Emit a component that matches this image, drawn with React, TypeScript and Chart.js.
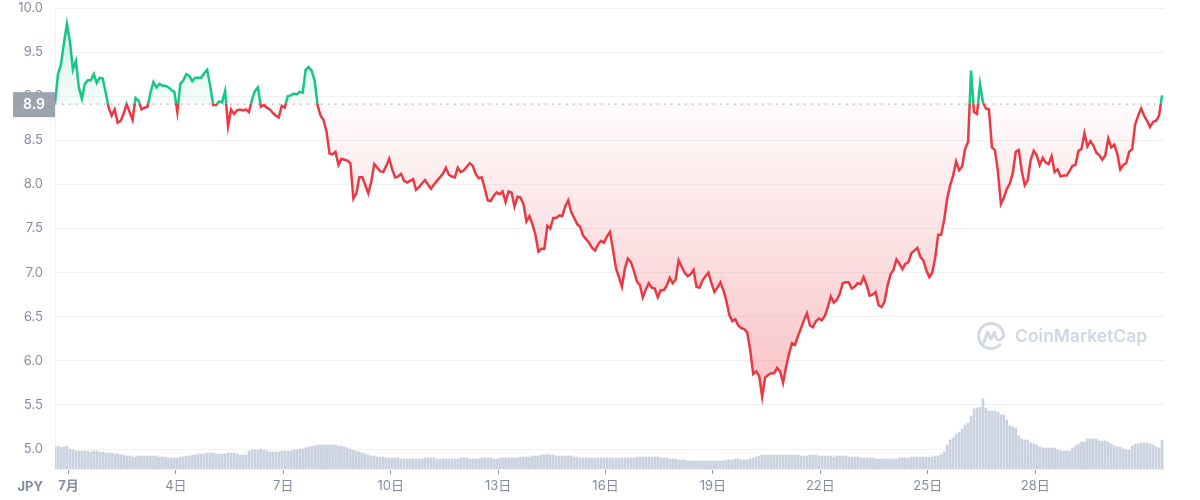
import { useEffect, useRef } from "react";
import { Chart, registerables } from "chart.js";

Chart.register(...registerables);

// Time axis: hours since 1 July 00:00, one sample every 2 hours
const START_HOUR = -9; // 30 June 15:00
const STEP_HOURS = 2;
const X_MIN_HOUR = -9;
const X_MAX_HOUR = 735;

const OPEN_PRICE = 8.91;
const OPEN_LABEL = "8.9";

const PRICE: number[] = [
  8.92, 9.25, 9.36, 9.6, 9.82, 9.62, 9.3, 9.4, 9.1, 8.97,
  9.14, 9.18, 9.18, 9.25, 9.15, 9.21, 9.2, 9.04, 8.87, 8.78,
  8.85, 8.7, 8.72, 8.8, 8.91, 8.82, 8.73, 8.98, 8.95, 8.85,
  8.87, 8.88, 9.04, 9.16, 9.1, 9.14, 9.12, 9.12, 9.1, 9.07,
  9.05, 8.82, 9.14, 9.18, 9.25, 9.23, 9.17, 9.21, 9.21, 9.21,
  9.26, 9.3, 9.12, 8.9, 8.9, 8.94, 8.93, 9.06, 8.66, 8.85,
  8.8, 8.84, 8.85, 8.84, 8.85, 8.82, 8.96, 9.06, 9.1, 8.88,
  8.9, 8.87, 8.85, 8.81, 8.78, 8.76, 8.89, 8.87, 9.0, 9.01,
  9.03, 9.02, 9.05, 9.04, 9.3, 9.33, 9.29, 9.18, 8.9, 8.78,
  8.73, 8.6, 8.35, 8.34, 8.37, 8.22, 8.29, 8.28, 8.27, 8.24,
  7.84, 7.9, 8.08, 8.08, 7.99, 7.9, 8.03, 8.23, 8.19, 8.15,
  8.14, 8.21, 8.29, 8.17, 8.08, 8.09, 8.12, 8.04, 8.02, 8.04,
  8.06, 7.94, 7.97, 8.01, 8.05, 8.0, 7.95, 8.0, 8.04, 8.08,
  8.12, 8.19, 8.11, 8.09, 8.08, 8.19, 8.14, 8.16, 8.2, 8.24,
  8.21, 8.12, 8.07, 8.08, 7.96, 7.82, 7.81, 7.87, 7.91, 7.89,
  7.92, 7.8, 7.92, 7.91, 7.75, 7.86, 7.85, 7.78, 7.58, 7.64,
  7.55, 7.43, 7.24, 7.27, 7.27, 7.53, 7.5, 7.62, 7.62, 7.65,
  7.64, 7.75, 7.82, 7.69, 7.62, 7.55, 7.52, 7.42, 7.38, 7.34,
  7.28, 7.25, 7.32, 7.36, 7.34, 7.41, 7.46, 7.26, 7.05, 6.95,
  6.84, 7.05, 7.16, 7.12, 7.02, 6.9, 6.86, 6.72, 6.81, 6.88,
  6.83, 6.82, 6.72, 6.8, 6.8, 6.85, 6.94, 6.88, 6.92, 7.14,
  7.07, 7.0, 6.96, 6.98, 7.03, 6.84, 6.83, 6.91, 6.96, 7.0,
  6.88, 6.78, 6.83, 6.89, 6.8, 6.68, 6.52, 6.45, 6.47, 6.4,
  6.37, 6.36, 6.32, 6.12, 5.85, 5.88, 5.83, 5.59, 5.81, 5.84,
  5.86, 5.86, 5.92, 5.88, 5.75, 5.93, 6.08, 6.2, 6.18, 6.28,
  6.37, 6.46, 6.54, 6.4, 6.38, 6.45, 6.48, 6.46, 6.51, 6.61,
  6.73, 6.66, 6.69, 6.76, 6.88, 6.89, 6.89, 6.82, 6.84, 6.88,
  6.87, 6.95, 6.86, 6.74, 6.75, 6.78, 6.63, 6.61, 6.67, 6.85,
  6.98, 7.03, 7.15, 7.1, 7.04, 7.1, 7.12, 7.22, 7.25, 7.28,
  7.18, 7.14, 7.03, 6.95, 7.0, 7.17, 7.43, 7.43, 7.6, 7.84,
  7.99, 8.1, 8.26, 8.16, 8.2, 8.4, 8.48, 9.29, 8.82, 8.8,
  9.14, 8.93, 8.86, 8.85, 8.42, 8.39, 8.15, 7.78, 7.85, 7.95,
  8.01, 8.13, 8.37, 8.39, 8.15, 7.99, 8.05, 8.28, 8.38, 8.33,
  8.22, 8.3, 8.25, 8.23, 8.32, 8.14, 8.17, 8.09, 8.1, 8.1,
  8.15, 8.21, 8.22, 8.38, 8.4, 8.58, 8.43, 8.49, 8.44, 8.36,
  8.33, 8.28, 8.33, 8.52, 8.42, 8.45, 8.35, 8.17, 8.22, 8.24,
  8.37, 8.4, 8.68, 8.78, 8.86, 8.78, 8.72, 8.65, 8.71, 8.72,
  8.78, 9.01,
];

const VOLUME: number[] = [
  22, 23, 22, 22, 23, 20, 19, 18, 18, 18,
  18, 18, 17, 18, 18, 17, 17, 16, 16, 16,
  15, 15, 14, 14, 13, 13, 12, 12, 13, 13,
  13, 13, 13, 13, 13, 12, 12, 12, 11, 11,
  11, 11, 12, 12, 13, 13, 14, 14, 15, 15,
  15, 16, 16, 16, 15, 15, 15, 15, 16, 16,
  16, 15, 14, 14, 14, 18, 19, 19, 19, 20,
  19, 18, 17, 17, 17, 17, 18, 18, 18, 18,
  19, 19, 20, 20, 21, 22, 23, 23, 24, 24,
  24, 24, 24, 24, 24, 23, 23, 22, 21, 20,
  19, 18, 17, 16, 15, 14, 13, 13, 12, 12,
  12, 11, 11, 11, 11, 11, 10, 10, 10, 10,
  10, 10, 10, 10, 11, 11, 11, 11, 10, 10,
  10, 10, 10, 10, 10, 10, 11, 11, 11, 10,
  10, 10, 10, 11, 11, 11, 11, 10, 10, 11,
  11, 11, 11, 11, 11, 11, 12, 12, 12, 12,
  13, 13, 13, 14, 14, 15, 14, 14, 13, 13,
  13, 13, 13, 13, 12, 12, 11, 11, 11, 11,
  11, 11, 11, 11, 11, 11, 11, 11, 11, 11,
  11, 11, 11, 11, 11, 12, 12, 12, 12, 12,
  12, 12, 12, 11, 11, 11, 10, 10, 10, 9,
  9, 9, 8, 8, 8, 8, 8, 8, 8, 8,
  8, 8, 8, 8, 8, 9, 9, 9, 10, 10,
  9, 9, 9, 10, 11, 12, 13, 14, 14, 14,
  14, 14, 14, 14, 14, 14, 14, 14, 14, 14,
  13, 13, 13, 14, 14, 14, 13, 13, 13, 13,
  13, 12, 13, 13, 13, 13, 12, 12, 12, 12,
  11, 11, 11, 11, 11, 10, 10, 10, 10, 10,
  10, 10, 10, 11, 11, 11, 11, 12, 12, 12,
  12, 12, 12, 12, 12, 13, 13, 15, 17, 24,
  29, 31, 35, 37, 40, 44, 46, 53, 60, 61,
  62, 70, 61, 58, 58, 58, 57, 54, 54, 49,
  43, 42, 41, 33, 30, 29, 29, 26, 25, 24,
  22, 21, 21, 21, 21, 21, 19, 18, 18, 18,
  18, 21, 23, 25, 27, 27, 30, 30, 30, 30,
  28, 28, 28, 27, 25, 23, 22, 22, 20, 19,
  19, 23, 25, 25, 26, 26, 26, 25, 24, 22,
  21, 29,
];
const VOLUME_AXIS_MAX = 461;

const TICK_DAYS = [0, 3, 6, 9, 12, 15, 18, 21, 24, 27];
const TICK_LABELS = ["7月", "4日", "7日", "10日", "13日", "16日", "19日", "22日", "25日", "28日"];
const Y_TICKS = [5.0, 5.5, 6.0, 6.5, 7.0, 7.5, 8.0, 8.5, 9.0, 9.5, 10.0];
const Y_MIN = 4.774;
const Y_MAX = 10.0;

const GREEN = "#16c784";
const RED = "#ea3943";
const TEXT = "#858ca2";
const GRID = "#eff2f5";
const FONT = "Inter, 'Noto Sans CJK JP', sans-serif";

const priceData = PRICE.map((v, i) => ({ x: START_HOUR + i * STEP_HOURS, y: v }));
const volumeData = VOLUME.map((v, i) => ({ x: START_HOUR + i * STEP_HOURS, y: v }));

function strokeGradient(chart: any) {
  const { ctx, chartArea, scales } = chart;
  if (!chartArea || !scales.y) return RED;
  const yb = scales.y.getPixelForValue(OPEN_PRICE);
  const s = Math.min(1, Math.max(0, (yb - chartArea.top) / (chartArea.bottom - chartArea.top)));
  const g = ctx.createLinearGradient(0, chartArea.top, 0, chartArea.bottom);
  g.addColorStop(0, GREEN);
  g.addColorStop(s, GREEN);
  g.addColorStop(s, RED);
  g.addColorStop(1, RED);
  return g;
}

function fillOption(context: any) {
  const chart = context.chart;
  const { ctx, chartArea, scales } = chart;
  if (!chartArea || !scales.y) {
    return { target: { value: OPEN_PRICE }, above: "rgba(22,199,132,0.1)", below: "rgba(234,57,67,0.1)" };
  }
  const yb = scales.y.getPixelForValue(OPEN_PRICE);
  const yTop = scales.y.getPixelForValue(Math.max(...PRICE));
  const yBot = scales.y.getPixelForValue(Math.min(...PRICE));
  const ga = ctx.createLinearGradient(0, yTop, 0, yb);
  ga.addColorStop(0, "rgba(22,199,132,0.2)");
  ga.addColorStop(1, "rgba(22,199,132,0.04)");
  const gb = ctx.createLinearGradient(0, yb, 0, yBot);
  gb.addColorStop(0, "rgba(234,57,67,0.02)");
  gb.addColorStop(1, "rgba(234,57,67,0.3)");
  return { target: { value: OPEN_PRICE }, above: ga, below: gb };
}

const overlayPlugin = {
  id: "cmcOverlay",
  beforeDatasetsDraw(chart: any) {
    const { ctx, chartArea, scales } = chart;
    const yb = scales.y.getPixelForValue(OPEN_PRICE);
    ctx.save();
    // dotted open-price line
    ctx.strokeStyle = "#a6adbb";
    ctx.lineWidth = 1.2;
    ctx.setLineDash([1.5, 5.5]);
    ctx.beginPath();
    ctx.moveTo(chartArea.left, yb);
    ctx.lineTo(chartArea.right, yb);
    ctx.stroke();
    ctx.setLineDash([]);

    // watermark
    const cx = 991;
    const cy = 336;
    ctx.strokeStyle = "#d3d9e4";
    ctx.lineWidth = 3;
    ctx.lineCap = "round";
    ctx.lineJoin = "round";
    ctx.beginPath();
    ctx.arc(cx, cy, 12.5, Math.PI * 0.25, Math.PI * 2.0, false);
    ctx.stroke();
    ctx.beginPath();
    ctx.moveTo(cx - 7, cy + 6);
    ctx.lineTo(cx - 3.5, cy - 4);
    ctx.lineTo(cx, cy + 3);
    ctx.lineTo(cx + 3.5, cy - 4);
    ctx.quadraticCurveTo(cx + 6, cy + 10, cx + 12.5, cy);
    ctx.stroke();
    ctx.fillStyle = "#d0d6e2";
    ctx.font = `600 17.5px ${FONT}`;
    ctx.textAlign = "left";
    ctx.textBaseline = "middle";
    ctx.fillText("CoinMarketCap", 1015, cy + 1);
    ctx.restore();
  },
  afterDraw(chart: any) {
    const { ctx, scales } = chart;
    const yb = scales.y.getPixelForValue(OPEN_PRICE);
    ctx.save();
    ctx.fillStyle = "#9ca2ae";
    ctx.fillRect(13, yb - 12, 42, 25);
    ctx.fillStyle = "#ffffff";
    ctx.font = `600 14px ${FONT}`;
    ctx.textAlign = "center";
    ctx.textBaseline = "middle";
    ctx.fillText(OPEN_LABEL, 34, yb + 1);
    ctx.fillStyle = "#808a9d";
    ctx.font = `700 13px ${FONT}`;
    ctx.textAlign = "right";
    ctx.fillText("JPY", 43, 487);
    ctx.restore();
  },
};

export default function App() {
  const ref = useRef<HTMLCanvasElement | null>(null);

  useEffect(() => {
    if (!ref.current) return;
    Chart.defaults.font.family = FONT;
    const chart = new Chart(ref.current, {
      type: "line",
      data: {
        datasets: [
          {
            type: "line",
            data: priceData,
            yAxisID: "y",
            borderColor: (c: any) => strokeGradient(c.chart),
            borderWidth: 2.5,
            pointRadius: 0,
            tension: 0,
            fill: fillOption as any,
            order: 0,
          } as any,
          {
            type: "bar",
            data: volumeData,
            yAxisID: "yv",
            backgroundColor: "#c9d1df",
            barThickness: 2,
            order: 1,
          } as any,
        ],
      },
      options: {
        animation: false,
        responsive: false,
        maintainAspectRatio: false,
        layout: { padding: { top: 0, right: 35, left: 0, bottom: 0 } },
        plugins: { legend: { display: false }, tooltip: { enabled: false } },
        scales: {
          x: {
            type: "linear",
            min: X_MIN_HOUR,
            max: X_MAX_HOUR,
            offset: false,
            afterBuildTicks: (scale: any) => {
              scale.ticks = TICK_DAYS.map((d) => ({ value: d * 24 }));
            },
            afterFit: (scale: any) => {
              scale.height = 31;
            },
            ticks: {
              autoSkip: false,
              maxRotation: 0,
              padding: 4,
              color: TEXT,
              font: (c: any) => ({ size: 13, weight: c.index === 0 ? "bold" : "normal" }),
              callback: (_v: any, i: number) => TICK_LABELS[i],
            },
            grid: {
              offset: false,
              drawOnChartArea: false,
              drawTicks: true,
              tickLength: 5,
              tickColor: "#8f98a8",
            },
            border: { display: true, color: GRID },
          },
          y: {
            type: "linear",
            position: "left",
            min: Y_MIN,
            max: Y_MAX,
            afterBuildTicks: (scale: any) => {
              scale.ticks = Y_TICKS.map((v) => ({ value: v }));
            },
            afterFit: (scale: any) => {
              scale.width = 55;
              scale.paddingTop = 8;
              scale.paddingBottom = 0;
            },
            ticks: {
              padding: 12,
              color: TEXT,
              font: { size: 13 },
              callback: (v: any) => Number(v).toFixed(1),
            },
            grid: { color: GRID, drawTicks: false },
            border: { display: true, color: GRID },
          },
          yv: {
            type: "linear",
            display: false,
            min: 0,
            max: VOLUME_AXIS_MAX,
          },
        },
      } as any,
      plugins: [overlayPlugin],
    });
    return () => chart.destroy();
  }, []);

  return (
    <div style={{ position: "absolute", left: 0, top: 0, width: 1200, height: 500, background: "#fff" }}>
      <canvas ref={ref} width={1200} height={500} style={{ display: "block" }} />
    </div>
  );
}
